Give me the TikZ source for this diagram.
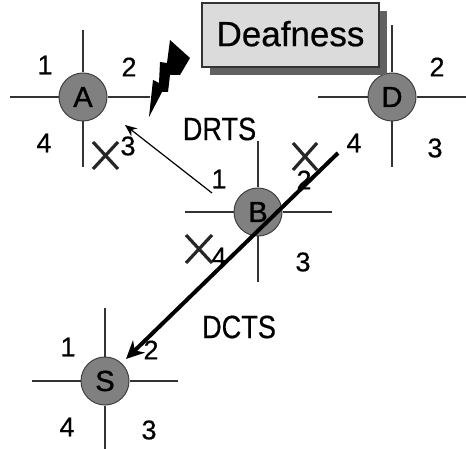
\documentclass[tikz,border=0pt]{standalone}
\usepackage{fontspec}
\setmainfont{Liberation Sans}
\newfontfamily\heavy[FakeBold=0.5]{Liberation Sans}
\newfontfamily\heavier[FakeBold=1.2]{Liberation Sans}
\usetikzlibrary{arrows.meta}
\tikzset{
  station/.style={circle,draw=black!75,line width=1pt,fill=black!50,minimum size=48pt,inner sep=0pt,font=\heavier\fontsize{29}{29}\selectfont,text=black},
  arm/.style={draw=black!80,line width=1.5pt},
  num/.style={inner sep=0pt,font=\heavy\fontsize{27}{27}\selectfont,text=black},
  lbl/.style={inner sep=0pt,font=\heavy\fontsize{28}{28}\selectfont,text=black},
  crossmark/.style={draw=black!85,line width=3.2pt},
  thinarrow/.style={draw=black,line width=1.2pt,-{Stealth[length=12pt,width=10pt]}},
  thickarrow/.style={draw=black,line width=4pt,-{Stealth[length=18pt,width=17pt]}},
  notebox/.style={draw=black!80,line width=1.2pt,fill=black!14,minimum width=177pt,minimum height=64pt,inner sep=0pt,font=\heavy\fontsize{35}{35}\selectfont},
}
\begin{document}
\begin{tikzpicture}[x=1pt,y=-1pt]
\useasboundingbox (0,0) rectangle (466,449);
% arm end points
\coordinate (Aw) at (10,97);  \coordinate (Ae) at (150,97);  \coordinate (An) at (83,30);   \coordinate (As) at (83,167);
\coordinate (Dw) at (318,97); \coordinate (De) at (466,97);  \coordinate (Dn) at (392,25);  \coordinate (Ds) at (392,167);
\coordinate (Bw) at (185,212);\coordinate (Be) at (332,212); \coordinate (Bn) at (258,141); \coordinate (Bs) at (258,282);
\coordinate (Sw) at (32,381); \coordinate (Se) at (178,381); \coordinate (Sn) at (105,308); \coordinate (Ss) at (105,449);
% stations
\node[station] (A) at (83,97) {A};
\node[station] (D) at (392,97) {D};
\node[station] (B) at (258,212) {B};
\node[station] (S) at (105,381) {S};
\foreach \n in {A,D,B,S}{
  \draw[arm] (\n.west) -- (\n w);
  \draw[arm] (\n.east) -- (\n e);
  \draw[arm] (\n.north) -- (\n n);
  \draw[arm] (\n.south) -- (\n s);
}
% deafness box with shadow
\fill[black!62] (210,11) rectangle (387,75);
\node[notebox] (note) at (290.5,35) {\raisebox{3pt}{Deafness}};
% lightning
\fill[black] (170,40) -- (190,58) -- (180,75) -- (170,75) -- (168,92) -- (162,92) -- (149,117) -- (153,80) -- (159,83) -- (160,62) -- (167,63) -- cycle;
% numbers
\node[num] (a1) at (45,65) {1};
\node[num] (a2) at (129,67) {2};
\node[num] (a4) at (44,143) {4};
\node[num] (a3) at (128,146) {3};
\node[num] (d2) at (437,67) {2};
\node[num] (d3) at (435,148) {3};
\node[num] (b1) at (219,179) {1};
\node[num] (b2) at (304,180) {2};
\node[num] (b4) at (219,257) {4};
\node[num] (b3) at (303,262) {3};
\node[num] (b4t) at (354,143) {4};
\node[num] (s1) at (68,347) {1};
\node[num] (s2) at (151,350) {2};
\node[num] (s4) at (67,427) {4};
\node[num] (s3) at (149,430) {3};
% labels
\node[lbl] (drts) at (219.5,129) {\scalebox{0.97}[1.15]{DRTS}};
\node[lbl] (dcts) at (239,327) {\scalebox{0.97}[1.15]{DCTS}};
% crosses
\draw[crossmark] (93,142) -- (118,169) (93,169) -- (118,142);
\draw[crossmark] (293,143) -- (317,170) (293,170) -- (317,143);
\draw[crossmark] (186,235) -- (212,263) (186,263) -- (212,235);
% arrows
\coordinate (thinstart) at (212,193);
\coordinate (thinend) at (125,125);
\coordinate (thickstart) at (338,153);
\coordinate (thickend) at (126,359);
\draw[thinarrow] (thinstart) -- (thinend);
\draw[thickarrow] (thickstart) -- (thickend);
\end{tikzpicture}
\end{document}
